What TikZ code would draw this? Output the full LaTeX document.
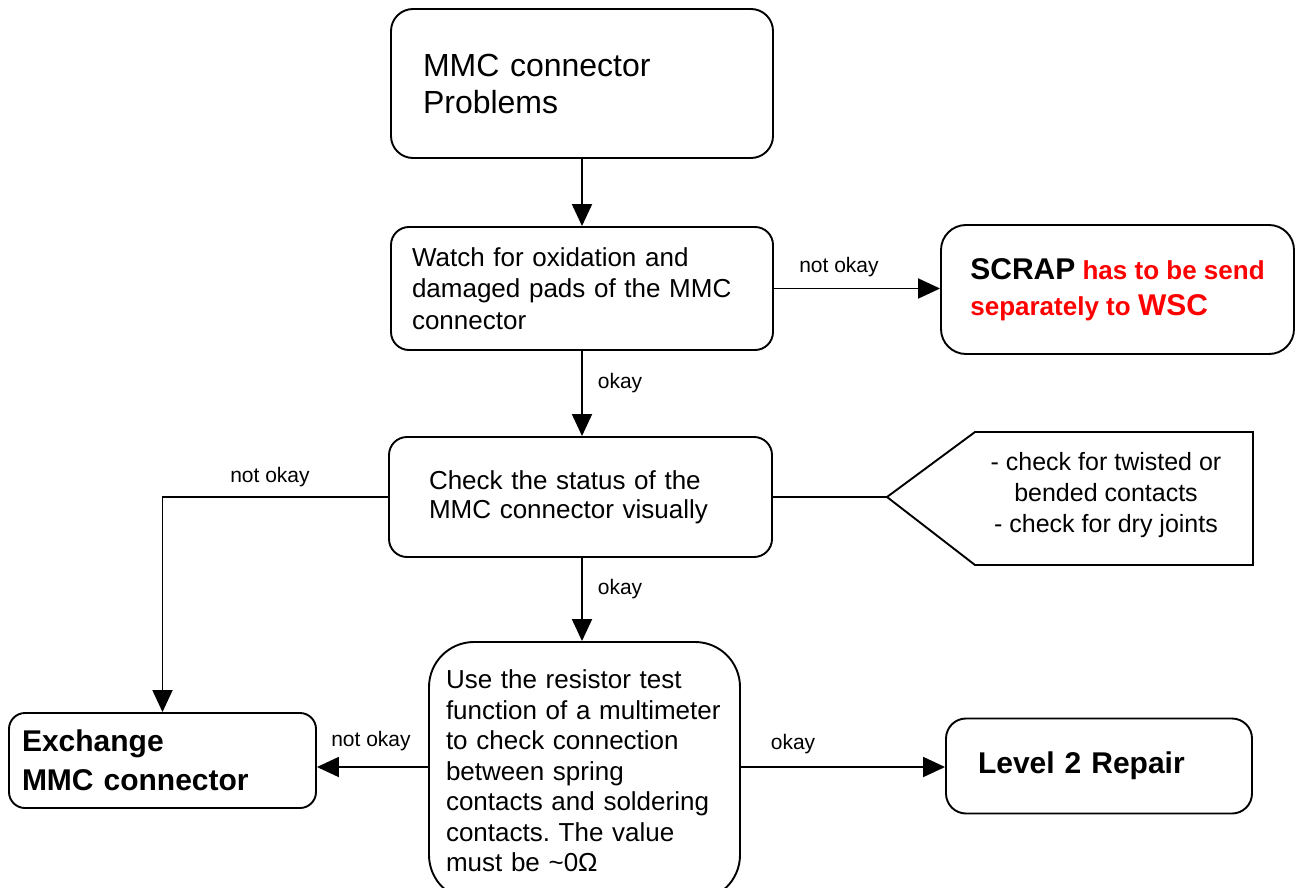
\documentclass[tikz,border=0pt]{standalone}
\usepackage{fontspec}
\setmainfont{Liberation Sans}
\usetikzlibrary{arrows.meta}
\frenchspacing

\tikzset{every picture/.style={line width=1.9pt}}
\tikzset{
  flowbox/.style={draw, align=left, inner ysep=0pt},
  flowarrow/.style={-{Triangle[length=22pt,width=20pt]}},
  edgelabel/.style={font=\fontsize{21}{25}\selectfont, inner sep=0.75pt},
}

\begin{document}
\begin{tikzpicture}[x=1pt,y=1pt,yscale=-1,xscale=1]
				\useasboundingbox (0,0) rectangle (1301,888);
				\clip (0,0) rectangle (1301,888);
				%Shape: Rounded Rect [id:prob]
				\node [flowbox, rounded corners=22pt, text width=318pt, inner xsep=32pt, minimum height=149pt, font=\fontsize{32}{37}\selectfont] (prob) at (582,83.5) {MMC connector\\Problems};
				%Shape: Rounded Rect [id:watch]
				\node [flowbox, rounded corners=18pt, text width=340pt, inner xsep=21pt, minimum height=123pt, font=\fontsize{26}{31.5}\selectfont] (watch) at (582,288.5) {Watch for oxidation and\\damaged pads of the MMC\\connector};
				%Shape: Rounded Rect [id:scrap]
				\node [flowbox, rounded corners=25pt, minimum width=353pt, minimum height=129pt, font=\bfseries\fontsize{26}{36}\selectfont] (scrap) at (1117.5,289.5) {{\fontsize{30}{36}\selectfont SCRAP} {\color{red}has to be send}\\{\color{red}separately to {\fontsize{30}{36}\selectfont WSC}}};
				%Shape: Rounded Rect [id:status]
				\node [flowbox, rounded corners=18pt, text width=303pt, inner xsep=40pt, minimum height=120pt, font=\fontsize{26}{29}\selectfont] (status) at (580.5,497) {Check the status of the\\MMC connector visually};
				%Shape: Pentagon [id:note]
				\draw (887,497) -- (975,432) -- (1253,432) -- (1253,565) -- (975,565) -- cycle ;
				\coordinate (notetip) at (887,497);
				\node [align=center, inner sep=0pt, font=\fontsize{25}{31}\selectfont] (note) at (1106,495) {- check for twisted or\\bended contacts\\- check for dry joints};
				%Shape: Rounded Rect [id:test]
				\node [flowbox, rounded corners=45pt, text width=277pt, inner xsep=17pt, minimum height=258pt, font=\fontsize{26}{30.5}\selectfont] (test) at (584.5,771) {Use the resistor test\\function of a multimeter\\to check connection\\between spring\\contacts and soldering\\contacts. The value\\must be \textasciitilde0Ω};
				%Shape: Rounded Rect [id:exch]
				\node [flowbox, rounded corners=16pt, text width=281pt, inner xsep=13pt, minimum height=95pt, font=\bfseries\fontsize{30}{39}\selectfont] (exch) at (162.5,760.5) {Exchange\\MMC connector};
				%Shape: Rounded Rect [id:rep]
				\node [flowbox, rounded corners=20pt, text width=242pt, inner xsep=32pt, minimum height=95pt, font=\bfseries\fontsize{30}{36}\selectfont] (rep) at (1099,766) {Level 2 Repair};
				\coordinate (lvl) at (0,767);

				%Straight Lines
				\draw [flowarrow] (prob) -- (watch);
				\draw [flowarrow] (watch.south) -- (watch.south |- status.north);
				\draw [flowarrow] (watch.east) -- (watch.east -| scrap.west);
				\draw (status.east) -- (notetip);
				\draw [flowarrow] (status.west) -| (exch.north);
				\draw [flowarrow] (watch.south |- status.south) -- (watch.south |- test.north);
				\draw [flowarrow] (test.west |- lvl) -- (exch.east |- lvl);
				\draw [flowarrow] (test.east |- lvl) -- (rep.west |- lvl);

				% Text Node
				\node [edgelabel] (okone) at (620,383) {okay};
				% Text Node
				\node [edgelabel] (notone) at (839,267) {not okay};
				% Text Node
				\node [edgelabel] (nottwo) at (270,477) {not okay};
				% Text Node
				\node [edgelabel] (oktwo) at (620,589) {okay};
				% Text Node
				\node [edgelabel] (notthree) at (371,741) {not okay};
				% Text Node
				\node [edgelabel] (okthree) at (793,744) {okay};
\end{tikzpicture}
\end{document}
